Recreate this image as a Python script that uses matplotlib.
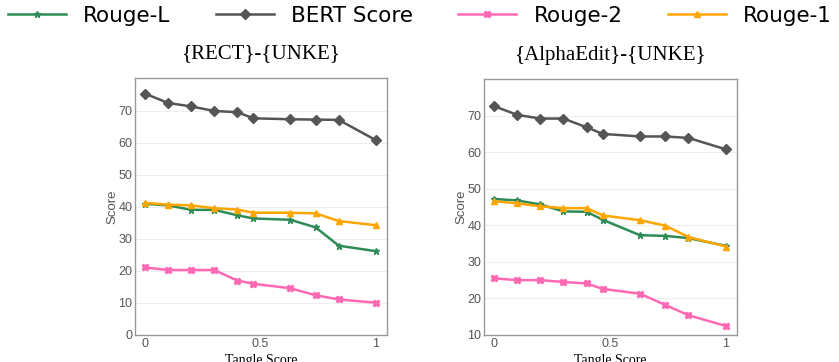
import matplotlib.pyplot as plt

x_vals = [0, 0.1, 0.2, 0.3, 0.4, 0.47, 0.63, 0.74, 0.84, 1.0]

rect_bert = [75.4, 72.5, 71.4, 70.0, 69.6, 67.7, 67.4, 67.3, 67.2, 60.9]
rect_rouge1 = [41.3, 40.7, 40.5, 39.6, 39.2, 38.2, 38.2, 38.0, 35.6, 34.3]
rect_rougeL = [41.0, 40.5, 39.1, 39.1, 37.4, 36.4, 36.0, 33.6, 27.9, 26.2]
rect_rouge2 = [21.1, 20.3, 20.3, 20.3, 17.0, 16.0, 14.6, 12.4, 11.1, 10.1]

alpha_bert = [72.6, 70.2, 69.2, 69.2, 66.8, 65.0, 64.3, 64.3, 63.9, 60.8]
alpha_rougeL = [47.2, 46.8, 45.7, 43.8, 43.7, 41.5, 37.3, 37.1, 36.5, 34.4]
alpha_rouge1 = [46.6, 46.0, 45.2, 44.7, 44.7, 42.7, 41.4, 39.9, 36.8, 34.2]
alpha_rouge2 = [25.5, 25.0, 25.0, 24.5, 24.1, 22.6, 21.3, 18.2, 15.4, 12.5]

titles = ["{RECT}-{UNKE}", "{AlphaEdit}-{UNKE}"]


def draw(ax, bert, r1, rl, r2, title, ylim, yticks):
  ax.plot(x_vals, rl, color="#2e8b57", marker="*", markersize=5, linewidth=1.8, label="Rouge-L")
  ax.plot(x_vals, bert, color="#555555", marker="D", markersize=5, linewidth=1.8, label="BERT Score")
  ax.plot(x_vals, r2, color="#ff69b4", marker="X", markersize=5, linewidth=1.8, label="Rouge-2")
  ax.plot(x_vals, r1, color="#ffa500", marker="^", markersize=5, linewidth=1.8, label="Rouge-1")
  ax.set_xlim(-0.043, 1.048)
  ax.set_ylim(*ylim)
  ax.set_xticks([0, 0.5, 1])
  ax.set_xticklabels(["0", "0.5", "1"])
  ax.set_yticks(yticks)
  ax.tick_params(length=0, labelsize=9, labelcolor="#555555", pad=2)
  for lab in ax.get_xticklabels() + ax.get_yticklabels():
    lab.set_fontfamily("Liberation Sans")
  ax.grid(axis="y", color="#eeeeee", linewidth=0.8)
  ax.set_axisbelow(True)
  for s in ax.spines.values():
    s.set_color("#999999")
    s.set_linewidth(1)
  ax.set_title(title, fontfamily="Liberation Serif", fontsize=15, pad=14)
  ax.set_xlabel("Tangle Score", fontfamily="Liberation Serif", fontsize=10, labelpad=3)
  ax.set_ylabel("Score", fontfamily="Liberation Sans", fontsize=9.5, color="#555555", labelpad=0)


fig = plt.figure(figsize=(8.39, 3.62), dpi=100)
ax1 = fig.add_axes([0.161, 0.0746, 0.300, 0.710])
ax2 = fig.add_axes([0.577, 0.0746, 0.301, 0.707])

draw(ax1, rect_bert, rect_rouge1, rect_rougeL, rect_rouge2, titles[0], (0, 80.3), range(0, 71, 10))
draw(ax2, alpha_bert, alpha_rouge1, alpha_rougeL, alpha_rouge2, titles[1], (10, 80), range(10, 71, 10))

handles, labels = ax1.get_legend_handles_labels()
fig.legend(handles, labels, loc="upper left", bbox_to_anchor=(8 / 839, 1 - 6 / 362), ncol=4,
           frameon=False, fontsize=15.5, handlelength=2.7, handletextpad=0.8, columnspacing=2.1,
           borderpad=0, borderaxespad=0)

fig.savefig("out.png", dpi=100)
